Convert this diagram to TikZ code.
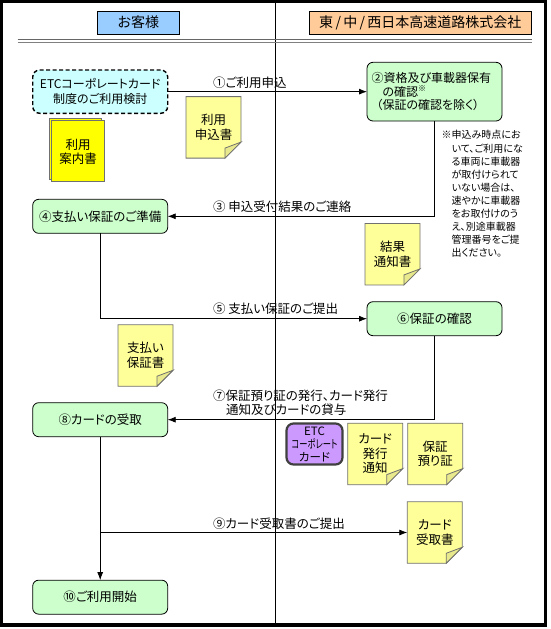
\documentclass[tikz,border=0pt]{standalone}
\usepackage{fontspec}
\usepackage{graphicx}
\setmainfont{Noto Sans CJK JP}[RawFeature=+palt]
\usetikzlibrary{arrows.meta}
\definecolor{hdrblue}{HTML}{99CCFF}
\definecolor{hdrorange}{HTML}{FFCC99}
\definecolor{procgreen}{HTML}{CCFFCC}
\definecolor{startcyan}{HTML}{CCFFFF}
\definecolor{docyellow}{HTML}{FFFF99}
\definecolor{foldyellow}{HTML}{E8E88C}
\definecolor{guideyellow}{HTML}{FFFF00}
\definecolor{cardpurple}{HTML}{CC99FF}
\definecolor{docedge}{HTML}{707070}
\definecolor{cardedge}{HTML}{404040}
% doc with folded corner: name, cx, cy, text
\newcommand\docnode[4]{%
  \filldraw[docshape] ({#2-27.5},{#3-30.75}) -- ({#2+27.5},{#3-30.75}) -- ({#2+27.5},{#3+30.75-16}) -- ({#2+27.5-16},{#3+30.75}) -- ({#2-27.5},{#3+30.75}) -- cycle;
  \filldraw[foldshape] ({#2+27.5},{#3+30.75-16}) -- ({#2+27.5-16},{#3+30.75-10}) -- ({#2+27.5-16},{#3+30.75}) -- cycle;
  \node[doctext] (#1) at (#2,#3) {#4};%
}
\begin{document}
\begin{tikzpicture}[x=1pt,y=-1pt,
  every node/.style={inner sep=0pt, outer sep=0pt},
  hdr/.style={draw=black, line width=0.8pt, minimum height=23.3pt, font=\fontsize{14}{16}\selectfont},
  proc/.style={draw=black, line width=0.8pt, rounded corners=6pt, fill=procgreen, minimum width=135pt, minimum height=34pt, font=\fontsize{12.5}{14}\selectfont, align=center},
  startbox/.style={draw=black, line width=1.4pt, dash pattern=on 4pt off 2.5pt, rounded corners=7pt, fill=startcyan, minimum width=135pt, minimum height=43.3pt, font=\fontsize{12}{15.5}\selectfont, align=center},
  docshape/.style={draw=docedge, line width=0.8pt, fill=docyellow},
  foldshape/.style={draw=docedge, line width=0.8pt, fill=foldyellow},
  doctext/.style={minimum width=55pt, minimum height=61.5pt, font=\fontsize{12.5}{14.5}\selectfont, align=center},
  guide/.style={draw=docedge, line width=0.8pt, fill=guideyellow},
  card/.style={draw=cardedge, line width=2.2pt, rounded corners=7pt, fill=cardpurple, minimum width=56pt, minimum height=41pt, font=\fontsize{11.5}{13}\selectfont, align=center},
  flow/.style={draw=black, line width=0.8pt, -{Latex[length=8pt,width=6pt]}},
  lbl/.style={anchor=west, font=\fontsize{12.5}{13.5}\selectfont, align=left},
  note/.style={anchor=north west, font=\fontsize{10}{13.1}\selectfont, align=left}
]
\useasboundingbox (0,0) rectangle (550,629);
\fill[white] (0,0) rectangle (550,629);
% frame
\draw[line width=3.2pt] (1.6,1.6) rectangle (545.2,625);
% divider
\draw[line width=0.8pt] (275.3,1.6) -- (275.3,625);
% double line
\draw[line width=1pt, black!60] (17.7,39.8) -- (531.7,39.8);
\draw[line width=0.8pt, black!50] (17.7,42.2) -- (531.7,42.2);
% headers
\node[hdr, fill=hdrblue, minimum width=81.6pt] (hcust) at (138.5,22.65) {お客様};
\node[hdr, fill=hdrorange, minimum width=222.7pt] (hcorp) at (420.35,22.65) {東\,/\,中\,/\,西日本高速道路株式会社};
% boxes
\node[startbox] (b1) at (100.2,91.65) {ETCコーポレートカード\\制度のご利用検討};
\node[proc, minimum height=58.7pt, align=left, text width=126pt, font=\fontsize{12}{13.5}\selectfont] (b2) at (434.5,91.65) {②資格及び車載器保有\\\hspace*{11pt}の確認\textsuperscript{※}\\\hspace*{5pt}（保証の確認を除く）};
\node[proc] (b4) at (100.2,216.3) {④支払い保証のご準備};
\node[proc] (b6) at (434.5,318.7) {⑥保証の確認};
\node[proc] (b8) at (100.2,419.7) {⑧カードの受取};
\node[proc] (b10) at (100.2,597.15) {⑩ご利用開始};
% guide (stacked)
\filldraw[guide] (49.3,118.3) rectangle (101.8,179.2);
\filldraw[guide] (51.7,120.7) rectangle (104.3,181.7);
\node[font=\fontsize{12.5}{14}\selectfont, align=center] (guidedoc) at (78,152) {利用\\案内書};
% docs
\docnode{appdoc}{213.5}{127.35}{利用\\申込書}
\docnode{resdoc}{392.5}{254.15}{結果\\通知書}
\docnode{guardoc}{145.5}{355.5}{支払い\\保証書}
\docnode{issuedoc}{375.2}{453.9}{カード\\発行\\通知}
\docnode{depdoc}{435.2}{453.9}{保証\\預り証}
\docnode{recdoc}{434.8}{532.5}{カード\\受取書}
% card
\node[card] (card) at (314.5,444) {ETC\\\scalebox{0.72}[1]{コーポレート}\\カード};
% note
\node[note] (note) at (441.7,130.5) {※申込み時点にお\\\hphantom{※}いて、ご利用にな\\\hphantom{※}る車両に車載器\\\hphantom{※}が取付けられて\\\hphantom{※}いない場合は、\\\hphantom{※}速やかに車載器\\\hphantom{※}をお取付けのう\\\hphantom{※}え、別途車載器\\\hphantom{※}管理番号をご提\\\hphantom{※}出ください。};
% connectors
\draw[flow] (b1) -- (b2);
\draw[flow] (b2.south) |- (b4.east);
\draw[flow] (b4.south) |- (b6.west);
\draw[flow] (b6.south) |- (b8.east);
\draw[flow] (b8.south) -- (b10.north);
\coordinate (br) at (100.2,532.5);
\draw[flow] (br) -- (recdoc.west);
% labels
\node[lbl] (l1) at (213,82.8) {①ご利用申込};
\node[lbl] (l3) at (213,206.8) {③ 申込受付結果のご連絡};
\node[lbl] (l5) at (213,309.2) {⑤ 支払い保証のご提出};
\node[lbl] (l7) at (213,402.8) {⑦保証預り証の発行、カード発行\\\hspace*{13pt}通知及びカードの貸与};
\node[lbl] (l9) at (213,523.3) {⑨カード受取書のご提出};
\end{tikzpicture}
\end{document}
